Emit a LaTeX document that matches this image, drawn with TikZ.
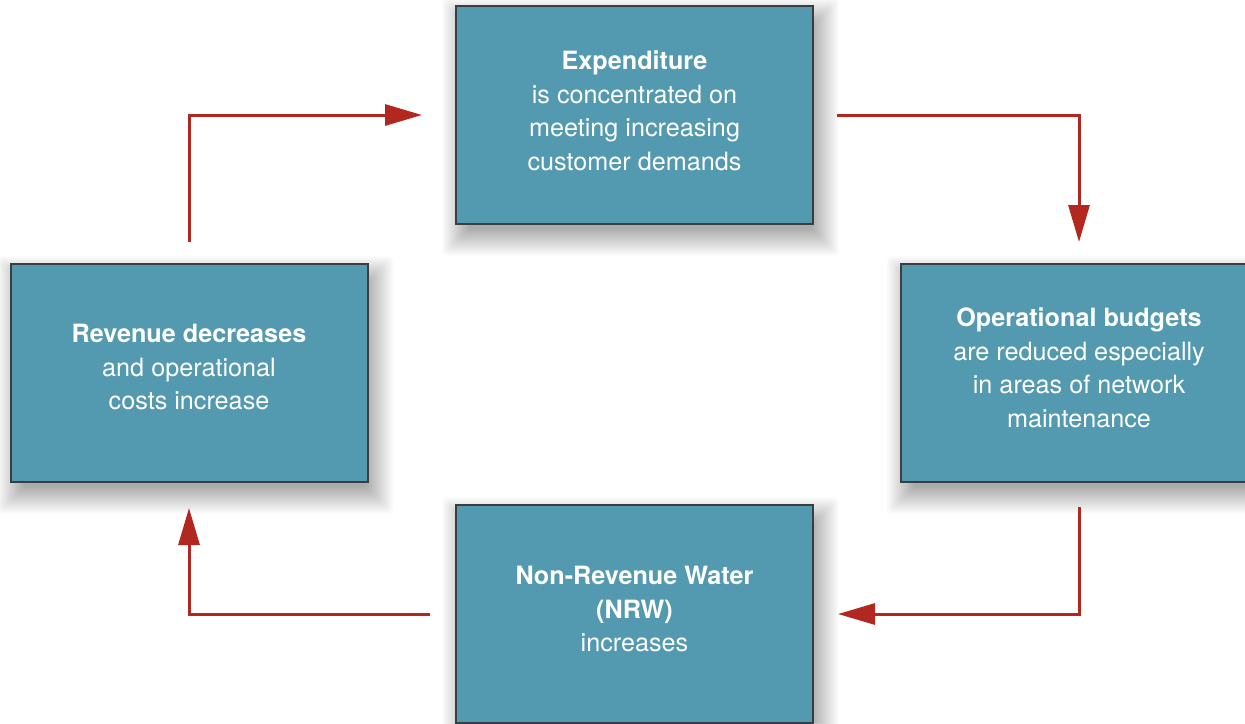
\documentclass[tikz,border=0pt]{standalone}
\usepackage{fontspec}
\setmainfont{TeX Gyre Heros}
\usetikzlibrary{arrows.meta,backgrounds}
\definecolor{boxfill}{RGB}{83,153,176}
\definecolor{boxedge}{RGB}{58,62,64}
\definecolor{flowred}{RGB}{178,40,32}
\tikzset{
  stagebox/.style={draw=boxedge, line width=2pt, fill=boxfill,
    minimum width=357pt, minimum height=218pt, inner sep=0pt},
  stagetext/.style={text=white, align=center, inner sep=0pt,
    font=\fontsize{25.2pt}{33.5pt}\selectfont},
  flow/.style={draw=flowred, line width=3pt,
    -{Triangle[length=37pt,width=21pt]}},
  shadowlayer/.style={fill=black, opacity=0.013, rounded corners=4pt},
}
\begin{document}
\begin{tikzpicture}[x=1pt,y=-1pt]
  \useasboundingbox (0,0) rectangle (1245,723);

  % the four stages of the cycle
  \node[stagebox] (exp) at (634.5,115) {};
  \node[stagebox] (opb) at (1079,373) {};
  \node[stagebox] (nrw) at (634.5,614) {};
  \node[stagebox] (rev) at (189,373) {};

  \node[stagetext] (exp-text) at ([yshift=4pt]exp.center)
    {\textbf{Expenditure}\\is concentrated on\\meeting increasing\\customer demands};
  \node[stagetext] (opb-text) at ([yshift=5pt]opb.center)
    {\textbf{Operational budgets}\\are reduced especially\\in areas of network\\maintenance};
  \node[stagetext] (nrw-text) at ([yshift=5pt]nrw.center)
    {\textbf{Non-Revenue Water}\\\textbf{(NRW)}\\increases};
  \node[stagetext] (rev-text) at ([yshift=6pt]rev.center)
    {\textbf{Revenue decreases}\\and operational\\costs increase};

  % white page and soft drop shadows behind the boxes
  \begin{scope}[on background layer]
    \fill[white] (0,0) rectangle (1245,723);
    \foreach \n in {exp,opb,nrw,rev}{
      \foreach \e in {-8,...,19}{
        \fill[shadowlayer]
          ([shift={(6-\e,12-\e)}]\n.north west) rectangle
          ([shift={(6+\e,12+\e)}]\n.south east);
      }
    }
  \end{scope}

  % clockwise flow between the stages
  \draw[flow] ([yshift=21pt]rev.north) |- ([xshift=-33pt]exp.west);
  \draw[flow] ([xshift=23pt]exp.east) -| ([yshift=21pt]opb.north);
  \draw[flow] ([yshift=-24pt]opb.south) |- ([xshift=24pt]nrw.east);
  \draw[flow] ([xshift=-25pt]nrw.west) -| ([yshift=-25pt]rev.south);
\end{tikzpicture}
\end{document}
